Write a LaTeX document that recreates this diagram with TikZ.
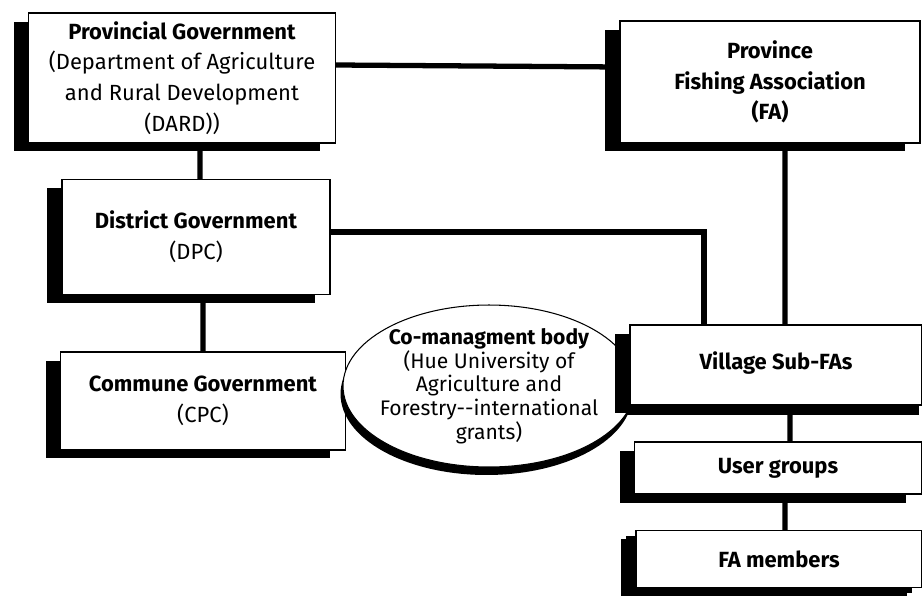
\documentclass[tikz,border=0pt]{standalone}
\usepackage{fontspec}
\setmainfont{Fira Sans}
\usetikzlibrary{shapes.geometric,shadows}

\begin{document}
\begin{tikzpicture}[x=0.02cm, y=-0.02cm,
	orgbox/.style={draw, line width=0.8pt, fill=white, align=center, font=\fontsize{12.5}{17.5}\selectfont,
		drop shadow={shadow xshift=-0.3cm, shadow yshift=-0.17cm, fill=black, opacity=1}},
	cobody/.style={ellipse, draw, line width=0.6pt, fill=white, align=center, inner xsep=-0.5cm, inner ysep=-0.2cm,
		font=\fontsize{12}{13.5}\selectfont,
		drop shadow={shadow xshift=-0.05cm, shadow yshift=-0.16cm, fill=black, opacity=1}},
	link/.style={line width=3pt}]
	\useasboundingbox (0,0) rectangle (922,595);

	\node[orgbox, minimum width=6.14cm, minimum height=2.6cm] (prov) at (182,78)
		{\textbf{Provincial Government}\\(Department of Agriculture\\and Rural Development\\(DARD))};
	\node[orgbox, minimum width=6cm, minimum height=2.44cm] (pfa) at (770,82)
		{\textbf{Province}\\\textbf{Fishing Association}\\\textbf{(FA)}};
	\node[orgbox, minimum width=5.36cm, minimum height=2.3cm] (dist) at (196,237)
		{\textbf{District Government}\\(DPC)};
	\node[orgbox, minimum width=5.7cm, minimum height=1.96cm] (comm) at (203,401)
		{\textbf{Commune Government}\\(CPC)};

	\node[cobody, minimum width=5.84cm, minimum height=3.24cm] (cmb) at (489,386)
		{\textbf{Co-managment body}\\(Hue University of\\Agriculture and\\Forestry-{}-international\\grants)};

	\node[orgbox, minimum width=5.84cm, minimum height=1.6cm,
		drop shadow={shadow xshift=-0.06cm, shadow yshift=-0.2cm, fill=black, opacity=1}] (vil) at (776,365)
		{\raisebox{0.16cm}{\textbf{Village Sub-FAs}}};
	\node[orgbox, minimum width=5.74cm, minimum height=1.04cm] (ug) at (778,468)
		{\textbf{User groups}};
	\node[orgbox, minimum width=5.72cm, minimum height=1.14cm,
		drop shadow={shadow xshift=-0.2cm, shadow yshift=-0.1cm, fill=black, opacity=1}] (fam) at (779,559)
		{\textbf{FA members}};

	\draw[link] ([yshift=0.26cm]prov.east) -- ([yshift=0.3cm]pfa.west);
	\draw[link] ([xshift=0.36cm]prov.south) -- ([xshift=0.08cm]dist.north);
	\draw[link] ([xshift=0.14cm]dist.south) -- (comm.north);
	\draw[link] ([yshift=0.1cm]dist.east) -| ([xshift=-1.44cm]vil.north);
	\draw[link] ([xshift=0.3cm]pfa.south) -- ([xshift=0.18cm]vil.north);
	\draw[link] ([xshift=0.28cm]vil.south) -- ([xshift=0.24cm]ug.north);
	\draw[link] ([xshift=0.14cm]ug.south) -- ([xshift=0.12cm]fam.north);

\end{tikzpicture}
\end{document}
